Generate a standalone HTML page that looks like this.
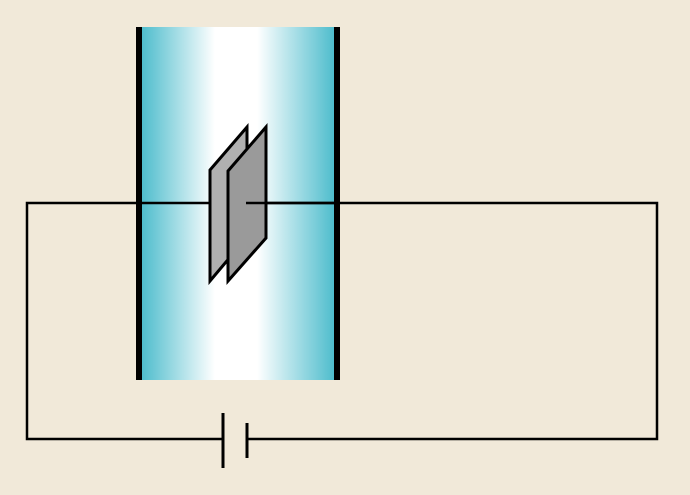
<!DOCTYPE html>
<html><head><style>body{margin:0;background:#f1e9d9}</style></head><body>
<svg width="690" height="490" xmlns="http://www.w3.org/2000/svg">
<defs><linearGradient id="g" x1="142" x2="334" y1="0" y2="0" gradientUnits="userSpaceOnUse">
<stop offset="0" stop-color="#4fbdcd"/><stop offset="0.38" stop-color="#ffffff"/><stop offset="0.6" stop-color="#ffffff"/><stop offset="1" stop-color="#4fbdcd"/></linearGradient></defs>
<rect x="0" y="0" width="690" height="490" fill="#f1e9d9"/>
<rect x="139" y="27" width="198" height="353" fill="url(#g)"/>
<line x1="139" y1="27" x2="139" y2="380" stroke="#000" stroke-width="6"/>
<line x1="337" y1="27" x2="337" y2="380" stroke="#000" stroke-width="6"/>
<g stroke="#000" stroke-width="2.5" fill="none">
<polyline points="210,203 27,203 27,439 223,439"/>
<polyline points="247,439 657,439 657,203 246,203"/>
</g>
<polygon points="210,170 247,127 247,237 210,281" fill="#b0b0b0" stroke="#000" stroke-width="3" stroke-linejoin="miter"/>
<polygon points="228,171 266,127 266,238 228,281" fill="#9a9a9a" stroke="#000" stroke-width="3"/>
<line x1="246" y1="203" x2="337" y2="203" stroke="#000" stroke-width="2.5"/>
<line x1="223" y1="413" x2="223" y2="468" stroke="#000" stroke-width="3"/>
<line x1="247" y1="423" x2="247" y2="458" stroke="#000" stroke-width="3"/>
</svg>
</body></html>
